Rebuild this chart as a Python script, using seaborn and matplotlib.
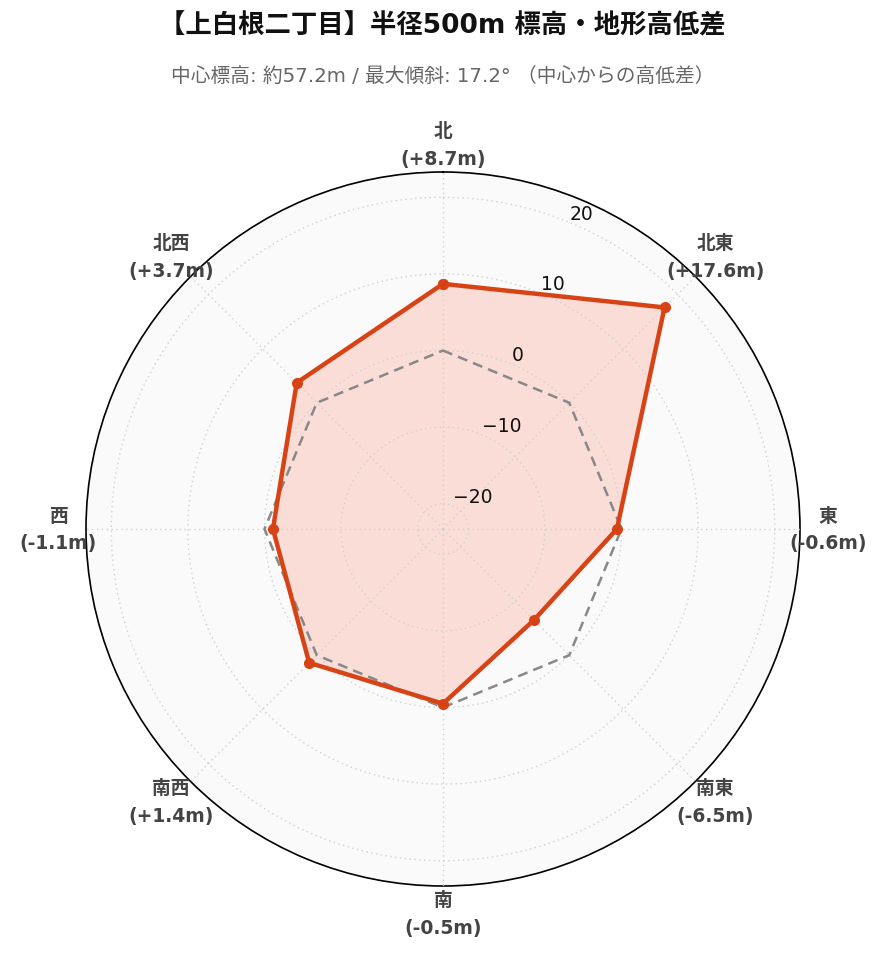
import numpy as np
import pandas as pd
import matplotlib
matplotlib.use("Agg")
import matplotlib.pyplot as plt
import seaborn as sns

directions = ["北", "北東", "東", "南東", "南", "南西", "西", "北西"]
diffs = [8.7, 17.6, -0.6, -6.5, -0.5, 1.4, -1.1, 3.7]
rticks = [-20, -10, 0, 10, 20]
title = "【上白根二丁目】半径500m 標高・地形高低差"
subtitle = "中心標高: 約57.2m / 最大傾斜: 17.2° （中心からの高低差）"

sns.set_theme(style="white")
plt.rcParams['font.family'] = ['DejaVu Sans', 'Noto Sans CJK JP']
plt.rcParams['axes.unicode_minus'] = True

fig = plt.figure(figsize=(8.85, 9.62), dpi=100)
ax = fig.add_axes([86/885, 75/962, 714/885, 714/962], projection="polar")
ax.set_theta_zero_location("N")
ax.set_theta_direction(-1)
ax.set_facecolor("#fafafa")

R = 23.3
ax.set_ylim(-R, R)

n = len(directions)
theta = np.deg2rad(np.arange(n) * 360 / n)
df = pd.DataFrame({"theta": np.append(theta, 2 * np.pi),
                   "diff": diffs + [diffs[0]],
                   "zero": [0.0] * (n + 1)})

ax.fill(df["theta"], df["diff"], color="#fb6a4a", alpha=0.2, zorder=2, linewidth=0)
sns.lineplot(data=df, x="theta", y="zero", ax=ax, sort=False, estimator=None,
             color="#888888", linewidth=1.8, linestyle=(0, (4, 2.5)), zorder=3)
sns.lineplot(data=df, x="theta", y="diff", ax=ax, sort=False, estimator=None,
             color="#d84315", linewidth=3.2, marker="o", markersize=8,
             markeredgewidth=0, zorder=4)

ax.set_xlabel("")
ax.set_ylabel("")
ax.set_xticks(theta)
ax.set_xticklabels([])
ax.set_yticks(rticks)
ax.set_yticklabels([str(t).replace("-", "\u2212") for t in rticks], fontsize=13.5,
                   color="#111111")
ax.set_rlabel_position(22.5)
ax.grid(True, color="#d0d0d0", linestyle=(0, (1, 2.5)), linewidth=1.0, zorder=5)
ax.set_axisbelow(False)
ax.spines["polar"].set_color("#000000")
ax.spines["polar"].set_linewidth(1.2)

for d, v, t in zip(directions, diffs, theta):
    rr = 1.078
    x = 0.5 + 0.5 * rr * np.sin(t)
    y = 0.5 + 0.5 * rr * np.cos(t)
    ax.text(x, y, f"{d}\n({v:+.1f}m)", transform=ax.transAxes, ha="center",
            va="center", fontsize=13.5, fontweight="bold", color="#444444",
            linespacing=1.6)

fig.text(0.5, 1 - 26/962, title, ha="center", va="center", fontsize=19,
         fontweight="bold", color="#111111")
fig.text(0.5, 1 - 76/962, subtitle, ha="center", va="center", fontsize=14.2,
         color="#666666")

fig.savefig("out.png", dpi=100)
